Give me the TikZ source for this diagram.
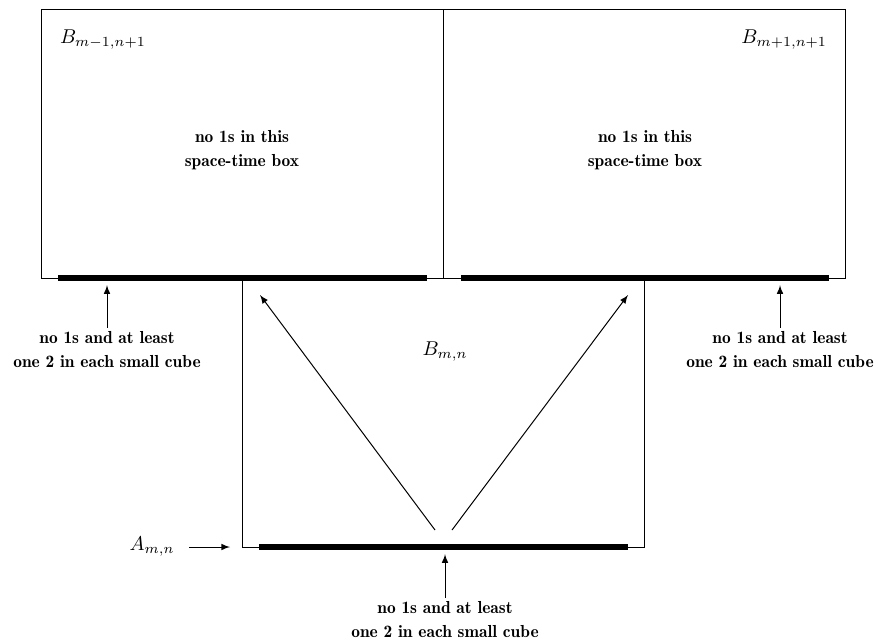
\documentclass[tikz,border=0pt]{standalone}
\usetikzlibrary{arrows}
\begin{document}
\begin{tikzpicture}[x=0.5pt,y=-0.5pt,
  box/.style={draw,line width=0.5pt},
  bar/.style={line width=2.6pt},
  lbl/.style={font=\fontsize{8.7pt}{12pt}\fontseries{b}\selectfont,align=center,inner sep=2pt},
  upar/.style={-latex,line width=0.5pt,shorten >=3.6pt}]
\useasboundingbox (0,0) rectangle (878,643);
% space-time boxes
\draw[box] (41,9) rectangle (443,278);
\draw[box] (443,9) rectangle (845,278);
\draw[box] (242,278) rectangle (644,547);
% thick bars
\coordinate (tl) at (107,278); \coordinate (tr) at (780,278); \coordinate (bm) at (445,547);
\draw[bar] (58,278) -- (427,278);
\draw[bar] (461,278) -- (829,278);
\draw[bar] (259,547) -- (628,547);
% box names
\node[anchor=west] (bmm) at (53,40) {$B_{m-1,n+1}$};
\node[anchor=east] (bmp) at (834,40) {$B_{m+1,n+1}$};
\node (bmn) at (445,352) {$B_{m,n}$};
\node (amn) at (152,547) {$A_{m,n}$};
% texts
\node[lbl] (nl) at (242,150) {no 1s in this\\space-time box};
\node[lbl] (nr) at (645,150) {no 1s in this\\space-time box};
\node[lbl] (ll) at (107,350) {no 1s and at least\\one 2 in each small cube};
\node[lbl] (lr) at (780,350) {no 1s and at least\\one 2 in each small cube};
\node[lbl] (lb) at (445,620) {no 1s and at least\\one 2 in each small cube};
% arrows
\draw[upar] (ll.north) -- (tl);
\draw[upar] (lr.north) -- (tr);
\draw[upar] (lb.north) -- (bm);
\coordinate (c) at (242,547);
\draw[-latex,line width=0.5pt,shorten <=4pt,shorten >=6pt] (amn.east) -- (c);
\coordinate (s1) at (435,530); \coordinate (s2) at (452,530);
\coordinate (t1) at (260,295); \coordinate (t2) at (628,295);
\draw[-latex,line width=0.5pt] (s1) -- (t1);
\draw[-latex,line width=0.5pt] (s2) -- (t2);
\end{tikzpicture}
\end{document}
